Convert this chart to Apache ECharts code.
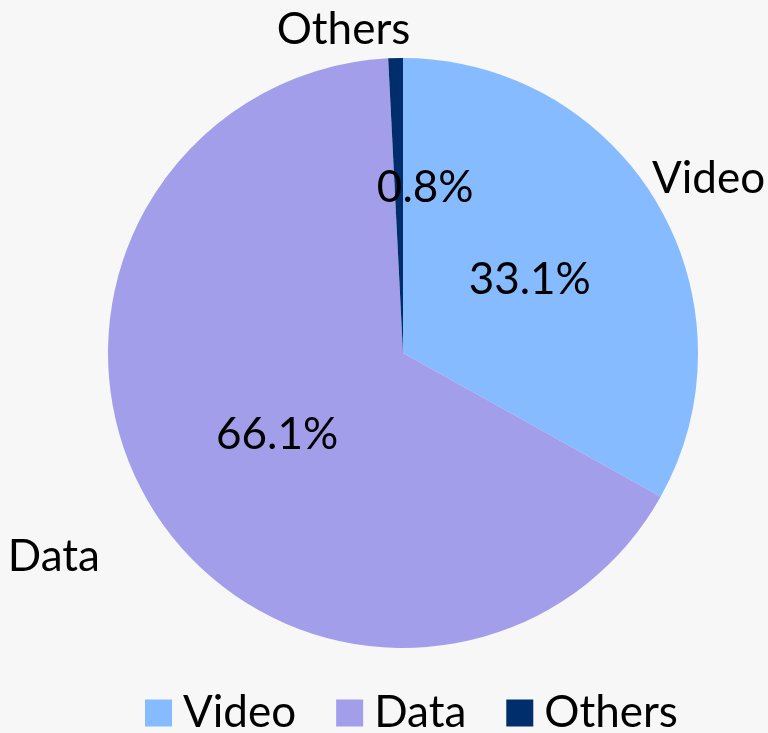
<!DOCTYPE html>
<html>
<head>
<meta charset="utf-8">
<script src="https://cdn.jsdelivr.net/npm/echarts@6/dist/echarts.min.js"></script>
<style>
html,body{margin:0;padding:0;background:#f7f7f7;}
#c{width:768px;height:733px;}
</style>
</head>
<body>
<div id="c"></div>
<script>
const categories = ['Video', 'Data', 'Others'];
const shares = [33.1, 66.1, 0.8];
const colors = ['#87bbff', '#a29eea', '#002d6b'];

// label nudges (style only), index-aligned with categories
const nameNudge = [[-19, -20], [-39, 43], [20, -18]];
const pctNudge = [[-3, 3], [2, 2], [26, -15]];

const FONT = 'Lato';
const FS = 44;
const chart = echarts.init(document.getElementById('c'), null, {renderer: 'canvas'});

const makeData = (transparent) => categories.map((n, i) => ({
  name: n, value: shares[i],
  itemStyle: {color: transparent ? 'rgba(0,0,0,0)' : colors[i]}
}));

chart.setOption({
  backgroundColor: '#f7f7f7',
  animation: false,
  legend: {
    data: categories,
    top: 686,
    left: 140,
    icon: 'rect',
    itemWidth: 27,
    itemHeight: 27,
    itemGap: 40,
    textStyle: {fontFamily: FONT, fontSize: FS, lineHeight: 44, color: '#000', padding: [0, 0, 0, 6]}
  },
  series: [
    {
      type: 'pie',
      center: [403, 353],
      radius: [0, 295],
      startAngle: 90,
      clockwise: true,
      avoidLabelOverlap: false,
      silent: true,
      label: {
        show: true,
        position: 'inside',
        formatter: p => p.value.toFixed(1) + '%',
        fontFamily: FONT, fontSize: FS, color: '#000'
      },
      labelLayout: p => ({dx: pctNudge[p.dataIndex][0], dy: pctNudge[p.dataIndex][1]}),
      labelLine: {show: false},
      data: makeData(false)
    },
    {
      type: 'pie',
      center: [403, 353],
      radius: [0, 295],
      startAngle: 90,
      clockwise: true,
      avoidLabelOverlap: false,
      silent: true,
      label: {
        show: true,
        position: 'outside',
        formatter: '{b}',
        fontFamily: FONT, fontSize: FS, color: '#000'
      },
      labelLayout: p => ({dx: nameNudge[p.dataIndex][0], dy: nameNudge[p.dataIndex][1]}),
      labelLine: {show: false, length: 10, length2: 0},
      data: makeData(true)
    }
  ]
});
</script>
</body>
</html>
